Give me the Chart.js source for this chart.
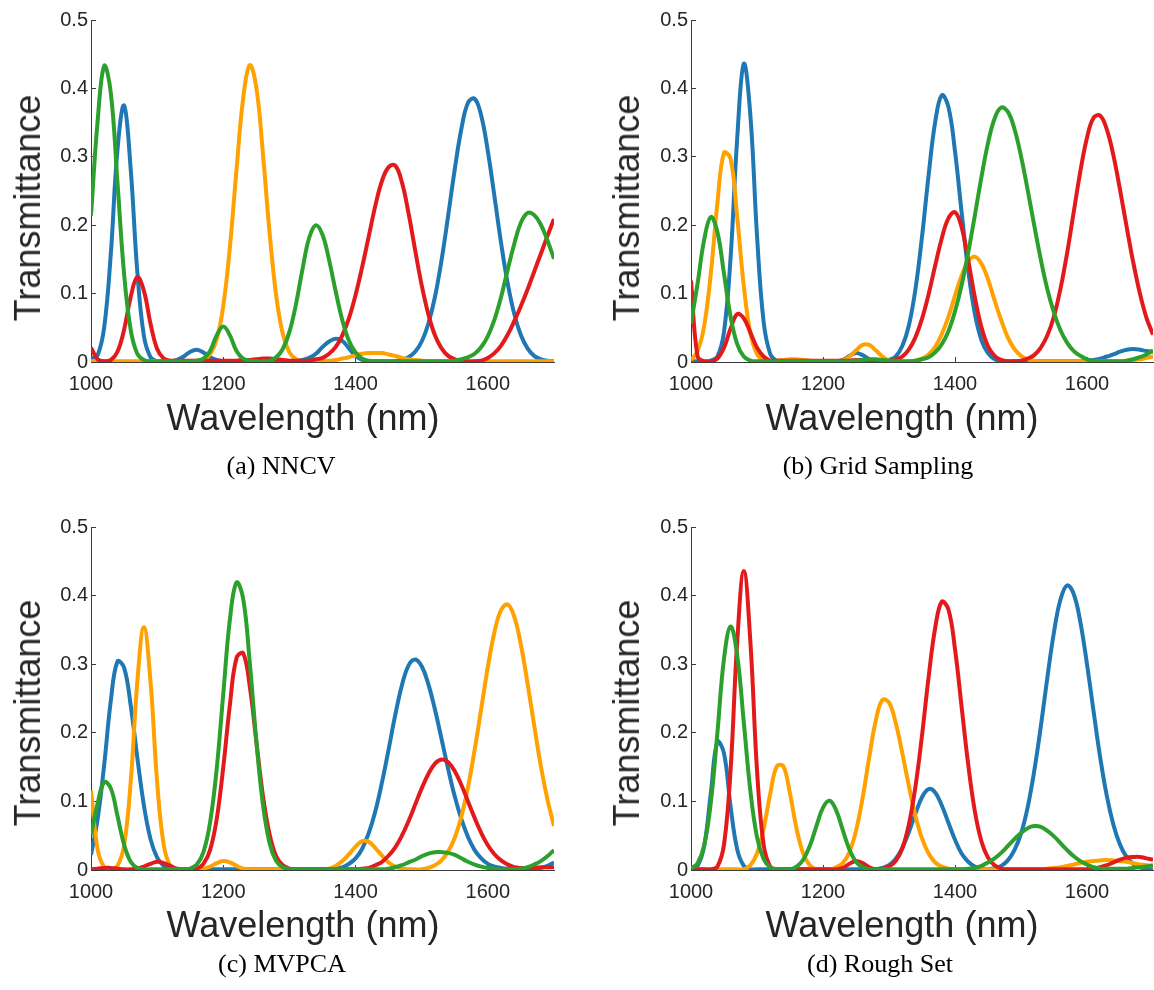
<!DOCTYPE html>
<html>
<head>
<meta charset="utf-8">
<script src="https://cdn.jsdelivr.net/npm/chart.js@4.4.1/dist/chart.umd.min.js"></script>
<style>
  body { margin: 0; background: #fff; width: 1154px; height: 990px; position: relative; overflow: hidden; }
  canvas { position: absolute; }
  .ylab, .xlab { position: absolute; font: 36px "Liberation Sans", Arial, sans-serif; color: #262626;
          white-space: nowrap; line-height: 1; }
  .ylab { transform: translate(-50%, -50%) rotate(-90deg); }
  .xlab { transform: translate(-50%, -50%); }
  .cap { position: absolute; font: 26px "Liberation Serif", "Times New Roman", serif; color: #000;
         transform: translate(-50%, -50%); white-space: nowrap; line-height: 1; }
</style>
</head>
<body>
<canvas id="cA" width="577" height="440" style="left:0;top:0"></canvas>
<canvas id="cB" width="554" height="440" style="left:600px;top:0"></canvas>
<canvas id="cC" width="577" height="441" style="left:0;top:507px"></canvas>
<canvas id="cD" width="554" height="441" style="left:600px;top:507px"></canvas>

<div class="ylab" style="left:28px;top:208px">Transmittance</div>
<div class="ylab" style="left:627px;top:208px">Transmittance</div>
<div class="ylab" style="left:28px;top:713px">Transmittance</div>
<div class="ylab" style="left:627px;top:713px">Transmittance</div>

<div class="xlab" style="left:303px;top:418px">Wavelength (nm)</div>
<div class="xlab" style="left:902px;top:418px">Wavelength (nm)</div>
<div class="xlab" style="left:303px;top:925px">Wavelength (nm)</div>
<div class="xlab" style="left:902px;top:925px">Wavelength (nm)</div>

<div class="cap" style="left:281px;top:466px">(a) NNCV</div>
<div class="cap" style="left:878px;top:466px">(b) Grid Sampling</div>
<div class="cap" style="left:282px;top:964px">(c) MVPCA</div>
<div class="cap" style="left:880px;top:964px">(d) Rough Set</div>

<script>
// wavelength samples (nm)
const wavelengths = [
  1000, 1010, 1020, 1030, 1040, 1050, 1060, 1070, 1080, 1090,
  1100, 1110, 1120, 1130, 1140, 1150, 1160, 1170, 1180, 1190,
  1200, 1210, 1220, 1230, 1240, 1250, 1260, 1270, 1280, 1290,
  1300, 1310, 1320, 1330, 1340, 1350, 1360, 1370, 1380, 1390,
  1400, 1410, 1420, 1430, 1440, 1450, 1460, 1470, 1480, 1490,
  1500, 1510, 1520, 1530, 1540, 1550, 1560, 1570, 1580, 1590,
  1600, 1610, 1620, 1630, 1640, 1650, 1660, 1670, 1680, 1690,
  1700
];

const xTicks = [1000, 1200, 1400, 1600];
const yTicks = [0, 0.1, 0.2, 0.3, 0.4, 0.5];

// (a) NNCV
const nncvBlue = [
  .005, .010, .051, .159, .310, .375, .282, .132, .038, .007,
  .001, .001, .001, .003, .008, .015, .018, .014, .007, .003,
  .001, .001, .001, .001, .001, .001, .001, .001, .001, .001,
  .001, .002, .003, .006, .012, .022, .030, .034, .031, .020,
  .009, .003, .001, .001, .001, .001, .001, .003, .007, .015,
  .030, .056, .095, .149, .214, .282, .341, .379, .385, .360,
  .308, .242, .174, .115, .070, .039, .020, .009, .004, .002,
  .001
];
const nncvOrange = [
  .001, .001, .001, .001, .001, .001, .001, .001, .001, .001,
  .001, .001, .001, .001, .001, .001, .001, .003, .011, .033,
  .082, .168, .281, .385, .434, .401, .304, .189, .097, .041,
  .014, .004, .001, .001, .001, .002, .002, .003, .005, .007,
  .010, .012, .013, .013, .013, .011, .009, .006, .004, .003,
  .002, .001, .001, .001, .001, .001, .001, .001, .001, .001,
  .001, .001, .001, .001, .001, .001, .001, .001, .001, .001,
  .001
];
const nncvGreen = [
  .214, .352, .433, .393, .263, .129, .047, .012, .003, .001,
  .001, .001, .001, .001, .001, .001, .002, .005, .016, .039,
  .052, .039, .016, .005, .002, .001, .001, .002, .007, .019,
  .044, .085, .137, .182, .200, .186, .149, .103, .061, .031,
  .014, .005, .002, .001, .001, .001, .001, .001, .001, .001,
  .001, .001, .001, .001, .001, .002, .004, .007, .012, .022,
  .038, .062, .095, .135, .173, .204, .218, .215, .201, .178,
  .151
];
const nncvRed = [
  .021, .004, .001, .003, .015, .047, .095, .124, .104, .056,
  .019, .005, .002, .002, .002, .002, .002, .002, .002, .002,
  .002, .002, .002, .003, .003, .004, .005, .005, .004, .003,
  .002, .002, .002, .002, .004, .006, .012, .022, .039, .064,
  .098, .139, .184, .229, .265, .285, .287, .263, .218, .164,
  .112, .070, .039, .020, .009, .004, .002, .001, .001, .002,
  .006, .013, .024, .040, .060, .082, .106, .132, .158, .184,
  .209
];

// (b) Grid Sampling
const gridBlue = [
  .001, .001, .001, .002, .008, .044, .153, .327, .436, .360,
  .185, .059, .012, .002, .001, .001, .001, .001, .001, .001,
  .001, .001, .001, .003, .009, .013, .010, .004, .001, .001,
  .003, .008, .023, .053, .106, .183, .273, .351, .390, .373,
  .308, .219, .134, .071, .032, .013, .004, .002, .001, .001,
  .001, .001, .001, .001, .001, .001, .001, .001, .001, .001,
  .002, .003, .005, .008, .011, .015, .018, .019, .018, .016,
  .015
];
const gridOrange = [
  .003, .016, .053, .129, .232, .306, .297, .212, .111, .042,
  .012, .003, .001, .002, .003, .004, .004, .003, .002, .001,
  .001, .001, .001, .002, .008, .017, .025, .025, .017, .008,
  .002, .001, .001, .001, .002, .005, .011, .022, .041, .066,
  .097, .126, .147, .154, .144, .121, .090, .061, .036, .019,
  .009, .004, .002, .001, .001, .001, .001, .001, .001, .001,
  .001, .001, .001, .001, .001, .001, .002, .003, .004, .006,
  .008
];
const gridGreen = [
  .056, .115, .179, .212, .190, .129, .066, .026, .008, .002,
  .001, .001, .001, .001, .001, .001, .001, .001, .001, .001,
  .001, .001, .001, .001, .001, .002, .003, .004, .004, .003,
  .002, .002, .001, .001, .002, .004, .007, .014, .026, .045,
  .074, .112, .160, .214, .270, .320, .356, .372, .366, .341,
  .301, .252, .200, .150, .106, .072, .046, .028, .016, .009,
  .004, .002, .001, .001, .001, .001, .002, .004, .007, .011,
  .017
];
const gridRed = [
  .119, .008, .001, .001, .005, .021, .049, .070, .064, .043,
  .021, .008, .002, .002, .002, .002, .002, .002, .002, .002,
  .002, .002, .002, .002, .002, .003, .003, .003, .002, .002,
  .001, .004, .008, .018, .036, .063, .099, .141, .181, .210,
  .219, .197, .149, .095, .051, .023, .009, .003, .001, .001,
  .002, .005, .010, .021, .039, .067, .108, .160, .220, .279,
  .328, .357, .360, .340, .302, .252, .198, .146, .101, .065,
  .040
];

// (c) MVPCA
const mvpcaBlue = [
  .022, .074, .154, .247, .304, .295, .240, .164, .094, .045,
  .018, .006, .002, .001, .001, .001, .001, .001, .001, .001,
  .001, .001, .001, .001, .001, .001, .001, .001, .001, .001,
  .001, .001, .001, .001, .001, .001, .001, .002, .004, .009,
  .017, .031, .054, .086, .128, .176, .226, .269, .298, .307,
  .297, .271, .234, .191, .147, .107, .074, .048, .029, .017,
  .009, .005, .003, .002, .002, .002, .002, .002, .003, .006,
  .011
];
const mvpcaOrange = [
  .116, .030, .004, .001, .006, .036, .128, .274, .354, .274,
  .128, .036, .006, .001, .001, .001, .001, .002, .005, .010,
  .013, .011, .006, .002, .001, .001, .001, .001, .001, .001,
  .001, .001, .001, .001, .001, .001, .002, .006, .013, .023,
  .034, .042, .041, .032, .021, .011, .005, .002, .001, .001,
  .001, .003, .007, .014, .027, .047, .078, .121, .175, .235,
  .296, .347, .379, .387, .369, .328, .272, .211, .152, .103,
  .064
];
const mvpcaGreen = [
  .051, .097, .128, .119, .079, .037, .012, .003, .001, .001,
  .001, .001, .001, .001, .001, .002, .008, .026, .069, .147,
  .257, .365, .419, .396, .303, .188, .095, .039, .013, .004,
  .001, .001, .001, .001, .001, .001, .001, .001, .001, .001,
  .001, .001, .001, .001, .001, .002, .004, .007, .011, .015,
  .020, .024, .026, .026, .025, .022, .017, .012, .008, .005,
  .003, .002, .001, .001, .001, .002, .004, .008, .013, .020,
  .029
];
const mvpcaRed = [
  .001, .002, .003, .003, .002, .001, .001, .002, .005, .009,
  .012, .010, .006, .002, .001, .001, .002, .009, .029, .074,
  .150, .241, .309, .316, .268, .187, .108, .052, .020, .007,
  .002, .001, .001, .001, .001, .001, .001, .001, .001, .001,
  .001, .002, .003, .007, .012, .021, .033, .050, .071, .095,
  .119, .140, .155, .161, .157, .144, .124, .100, .076, .054,
  .036, .023, .014, .008, .004, .003, .003, .003, .004, .004,
  .004
];

// (d) Rough Set
const roughBlue = [
  .001, .006, .035, .112, .187, .170, .092, .030, .006, .001,
  .001, .001, .001, .001, .001, .001, .001, .001, .001, .001,
  .001, .001, .001, .001, .001, .001, .001, .001, .001, .003,
  .007, .016, .032, .055, .082, .106, .118, .113, .094, .069,
  .044, .024, .012, .005, .002, .001, .003, .006, .014, .029,
  .053, .091, .144, .209, .281, .347, .395, .415, .402, .361,
  .300, .231, .164, .108, .066, .037, .019, .009, .004, .002,
  .001
];
const roughOrange = [
  .001, .001, .001, .001, .001, .001, .001, .001, .001, .007,
  .024, .060, .111, .151, .151, .111, .060, .024, .007, .001,
  .001, .001, .004, .010, .026, .057, .105, .164, .218, .248,
  .244, .215, .171, .123, .079, .046, .024, .011, .005, .002,
  .001, .001, .001, .001, .001, .001, .001, .001, .001, .001,
  .001, .001, .001, .001, .002, .003, .004, .006, .008, .010,
  .012, .013, .014, .0145, .014, .013, .012, .010, .008, .007,
  .005
];
const roughGreen = [
  .002, .010, .036, .098, .200, .308, .355, .313, .215, .115,
  .048, .016, .004, .001, .001, .001, .005, .015, .035, .064,
  .091, .101, .087, .058, .030, .012, .004, .001, .001, .001,
  .001, .001, .001, .001, .001, .001, .001, .001, .001, .001,
  .001, .001, .002, .003, .006, .011, .017, .025, .035, .045,
  .054, .061, .064, .063, .057, .049, .039, .029, .020, .013,
  .008, .004, .002, .002, .002, .002, .002, .003, .004, .005,
  .007
];
const roughRed = [
  .002, .001, .001, .001, .005, .037, .146, .332, .436, .332,
  .146, .037, .005, .001, .001, .001, .001, .001, .001, .001,
  .001, .001, .001, .003, .009, .013, .010, .004, .001, .002,
  .005, .013, .031, .066, .121, .196, .281, .353, .391, .380,
  .322, .238, .154, .086, .042, .018, .007, .002, .001, .001,
  .001, .001, .001, .001, .001, .001, .001, .001, .001, .001,
  .001, .002, .004, .007, .011, .015, .018, .019, .019, .017,
  .015
];

const BLUE = '#1f77b4';
const ORANGE = '#ffa100';
const GREEN = '#2ca02c';
const RED = '#e31a1c';

const FONT = '"Liberation Sans", Arial, Helvetica, sans-serif';
const AXIS = '#3c3c3c';
const TEXT = '#262626';

function makePanel(id, blue, orange, green, red, padRight) {
  const series = [
    { values: blue, color: BLUE, order: 4 },
    { values: orange, color: ORANGE, order: 3 },
    { values: red, color: RED, order: 2 },
    { values: green, color: GREEN, order: 1 }
  ];
  new Chart(document.getElementById(id), {
    type: 'line',
    data: {
      datasets: series.map(s => ({
        data: wavelengths.map((w, i) => ({ x: w, y: s.values[i] })),
        borderColor: s.color,
        borderWidth: 4,
        pointRadius: 0,
        fill: false,
        tension: 0.4,
        order: s.order
      }))
    },
    options: {
      responsive: false,
      animation: false,
      events: [],
      layout: { padding: { top: 18, right: padRight, bottom: 0, left: 0 } },
      plugins: { legend: { display: false }, tooltip: { enabled: false } },
      scales: {
        x: {
          type: 'linear',
          min: 1000,
          max: 1700,
          afterBuildTicks: ax => { ax.ticks = xTicks.map(v => ({ value: v })); },
          afterFit: ax => { ax.height = 78; },
          border: { display: true, color: AXIS, width: 1 },
          grid: { drawOnChartArea: false, drawTicks: true, tickLength: -5, color: AXIS },
          ticks: { color: TEXT, font: { family: FONT, size: 20 }, padding: 15, maxRotation: 0,
                   callback: v => String(v) }
        },
        y: {
          min: 0,
          max: 0.5,
          afterBuildTicks: ax => { ax.ticks = yTicks.map(v => ({ value: v })); },
          afterFit: ax => { ax.width = 91; },
          border: { display: true, color: AXIS, width: 1 },
          grid: { drawOnChartArea: false, drawTicks: true, tickLength: -5, color: AXIS },
          ticks: { color: TEXT, font: { family: FONT, size: 20 }, padding: 8,
                   callback: v => String(v) }
        }
      }
    }
  });
}

makePanel('cA', nncvBlue, nncvOrange, nncvGreen, nncvRed, 23);
makePanel('cB', gridBlue, gridOrange, gridGreen, gridRed, 1);
makePanel('cC', mvpcaBlue, mvpcaOrange, mvpcaGreen, mvpcaRed, 23);
makePanel('cD', roughBlue, roughOrange, roughGreen, roughRed, 1);
</script>
</body>
</html>
